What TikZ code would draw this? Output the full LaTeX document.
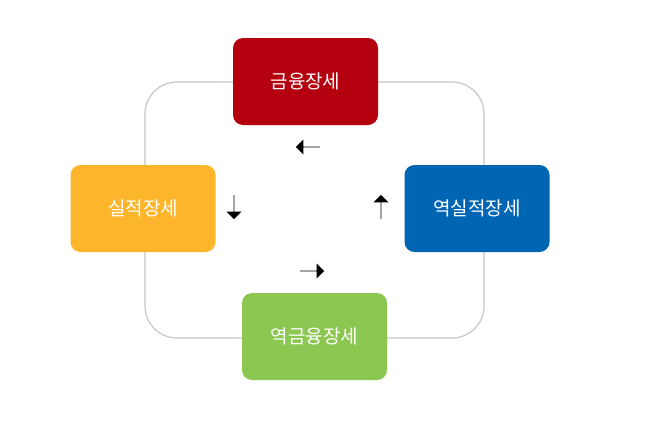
\documentclass[tikz,border=0pt]{standalone}
\usepackage{fontspec}
\newfontfamily\kr{Noto Sans CJK KR}
\usetikzlibrary{shapes.arrows}
\definecolor{cred}{HTML}{B5000F}
\definecolor{corange}{HTML}{FDB52B}
\definecolor{cblue}{HTML}{0066B3}
\definecolor{cgreen}{HTML}{8CC751}
\tikzset{
  box/.style={rounded corners=10pt,minimum width=145pt,minimum height=87pt,text=white,font=\kr\fontsize{19}{22}\selectfont,inner sep=0pt},
  blk/.style={single arrow,fill=black,draw=none,minimum height=24pt,minimum width=15pt,single arrow head extend=3pt,inner sep=0pt,single arrow tip angle=90}
}
\begin{document}
\begin{tikzpicture}[x=1pt,y=-1pt]
\useasboundingbox (0,0) rectangle (652,426);
\draw[gray!45,line width=1.2pt,rounded corners=32pt] (145,82) rectangle (484,338);
\node[box,fill=cred] (a) at (305.5,81.5) {금융장세};
\node[box,fill=corange] (b) at (143,208.5) {실적장세};
\node[box,fill=cblue] (c) at (477,208.5) {역실적장세};
\node[box,fill=cgreen] (d) at (314.5,336.5) {역금융장세};
\node[blk,shape border rotate=180] (l) at (308,147) {};
\node[blk,shape border rotate=270] (dn) at (234,207) {};
\node[blk] (r) at (312,271) {};
\node[blk,shape border rotate=90] (u) at (381,207) {};
\end{tikzpicture}
\end{document}
